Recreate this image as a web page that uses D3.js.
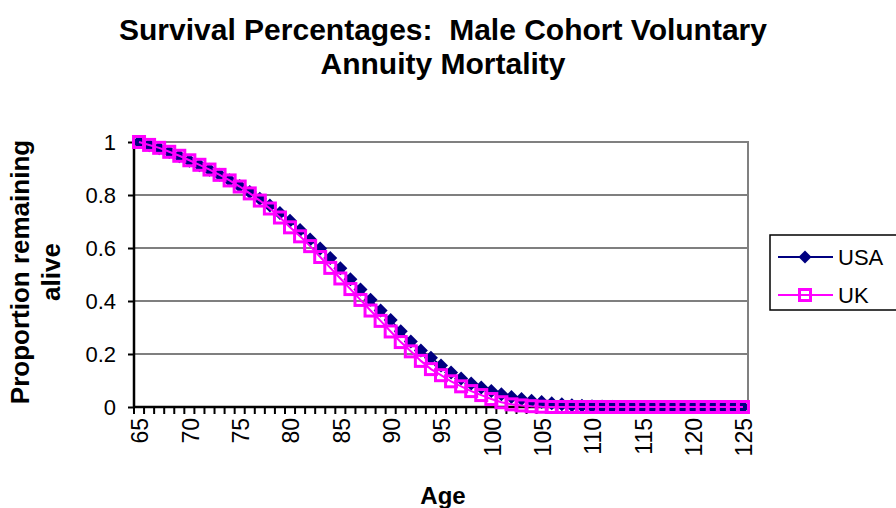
<!DOCTYPE html>
<html>
<head>
<meta charset="utf-8">
<script src="https://cdn.jsdelivr.net/npm/d3@7"></script>
<style>
  body { margin: 0; background: #fff; }
  svg { display: block; font-family: "Liberation Sans", Arial, sans-serif; }
</style>
</head>
<body>
<script>
// ages 65..125, one category each
var ages = d3.range(65, 126);
var ageLabels = [65, 70, 75, 80, 85, 90, 95, 100, 105, 110, 115, 120, 125];
var yTicks = [0, 0.2, 0.4, 0.6, 0.8, 1];

var usa = [1.000, 0.988, 0.976, 0.962, 0.946, 0.929, 0.912, 0.895, 0.876, 0.856,
           0.834, 0.811, 0.786, 0.760, 0.732, 0.703, 0.668, 0.632, 0.598, 0.562,
           0.524, 0.482, 0.443, 0.405, 0.364, 0.328, 0.286, 0.247, 0.213, 0.186,
           0.157, 0.130, 0.108, 0.089, 0.074, 0.060, 0.048, 0.038, 0.030, 0.024,
           0.019, 0.014, 0.010, 0.007, 0.005, 0.003, 0.002, 0.001, 0, 0,
           0, 0, 0, 0, 0, 0, 0, 0, 0, 0, 0];
var uk = [1.000, 0.989, 0.978, 0.963, 0.948, 0.931, 0.914, 0.896, 0.876, 0.855,
          0.832, 0.806, 0.779, 0.749, 0.715, 0.678, 0.644, 0.607, 0.566, 0.525,
          0.485, 0.445, 0.404, 0.364, 0.325, 0.285, 0.245, 0.210, 0.174, 0.143,
          0.120, 0.097, 0.078, 0.060, 0.045, 0.030, 0.018, 0.010, 0.006, 0.003,
          0.001, 0, 0, 0, 0, 0, 0, 0, 0, 0,
          0, 0, 0, 0, 0, 0, 0, 0, 0, 0, 0];

var seriesNames = ['USA', 'UK'];
var seriesColors = ['#000080', '#ff00ff'];

var W = 896, H = 508;
var plot = { left: 134, right: 748, top: 142, bottom: 407 };

var svg = d3.select('body').append('svg').attr('width', W).attr('height', H);

var x = d3.scaleBand().domain(ages).range([plot.left, plot.right]).paddingInner(0).paddingOuter(0);
var y = d3.scaleLinear().domain([0, 1]).range([plot.bottom, plot.top]);
var cx = function (a) { return x(a) + x.bandwidth() / 2; };

// title
svg.append('text').attr('x', 443).attr('y', 40).attr('text-anchor', 'middle')
  .style('font-size', '30px').style('font-weight', 'bold')
  .text('Survival Percentages:\u00a0 Male Cohort Voluntary');
svg.append('text').attr('x', 443).attr('y', 74).attr('text-anchor', 'middle')
  .style('font-size', '30px').style('font-weight', 'bold')
  .text('Annuity Mortality');

// gridlines (top one is the gray plot border)
svg.append('g').selectAll('line').data(yTicks.filter(function (d) { return d > 0 && d < 1; }))
  .enter().append('line')
  .attr('x1', plot.left).attr('x2', plot.right)
  .attr('y1', function (d) { return y(d); }).attr('y2', function (d) { return y(d); })
  .attr('stroke', '#000').attr('stroke-width', 1.2);
svg.append('path')
  .attr('d', 'M' + plot.left + ',' + y(1) + 'H' + plot.right + 'V' + plot.bottom)
  .attr('fill', 'none').attr('stroke', '#808080').attr('stroke-width', 2);

// y axis
var yAxis = svg.append('g').attr('transform', 'translate(' + plot.left + ',0)')
  .call(d3.axisLeft(y).tickValues(yTicks).tickFormat(d3.format('')).tickSize(6).tickPadding(12));
yAxis.select('.domain').attr('stroke', '#000').attr('stroke-width', 2.5).attr('d', 'M0,' + plot.top + 'V' + plot.bottom);
yAxis.selectAll('.tick line').attr('stroke', '#000').attr('stroke-width', 2);
yAxis.selectAll('.tick text').style('font-size', '22px').attr('fill', '#000')
  .style('font-family', '"Liberation Sans", Arial, sans-serif');

// x axis: boundary ticks + rotated labels
var bounds = ages.map(function (a) { return x(a); }).concat([plot.right]);
svg.append('g').selectAll('line').data(bounds).enter().append('line')
  .attr('x1', function (d) { return d; }).attr('x2', function (d) { return d; })
  .attr('y1', plot.bottom).attr('y2', plot.bottom + 7)
  .attr('stroke', '#000').attr('stroke-width', 2);
svg.append('line').attr('x1', plot.left).attr('x2', plot.right)
  .attr('y1', plot.bottom).attr('y2', plot.bottom)
  .attr('stroke', '#000').attr('stroke-width', 2.5);
svg.append('g').selectAll('text').data(ageLabels).enter().append('text')
  .attr('transform', function (d) { return 'translate(' + (cx(d) + 1) + ',' + (plot.bottom + 11) + ') rotate(-90)'; })
  .attr('text-anchor', 'end').attr('dy', '0.36em')
  .style('font-size', '23px')
  .text(function (d) { return d; });

// axis titles
svg.append('text').attr('x', 443).attr('y', 504).attr('text-anchor', 'middle')
  .style('font-size', '24px').style('font-weight', 'bold').text('Age');
var yt = svg.append('text').attr('transform', 'translate(29,272) rotate(-90)')
  .attr('text-anchor', 'middle').style('font-size', '26px').style('font-weight', 'bold');
yt.append('tspan').attr('x', 0).attr('y', 0).text('Proportion remaining');
yt.append('tspan').attr('x', 0).attr('y', 31).text('alive');

// series
var line = d3.line().x(function (d, i) { return cx(ages[i]); }).y(function (d) { return y(d); });

function diamond(g, px, py, r) {
  g.append('path').attr('d', 'M' + px + ',' + (py - r) + 'L' + (px + r) + ',' + py + 'L' + px + ',' + (py + r) + 'L' + (px - r) + ',' + py + 'Z')
    .attr('fill', seriesColors[0]);
}
function square(g, px, py, r) {
  g.append('rect').attr('x', px - r).attr('y', py - r).attr('width', 2 * r).attr('height', 2 * r)
    .attr('fill', 'none').attr('stroke', seriesColors[1]).attr('stroke-width', 3);
}

var gUsa = svg.append('g');
gUsa.append('path').datum(usa).attr('d', line).attr('fill', 'none')
  .attr('stroke', seriesColors[0]).attr('stroke-width', 1.5);
usa.forEach(function (v, i) { diamond(gUsa, cx(ages[i]), y(v), 7); });

var gUk = svg.append('g');
gUk.append('path').datum(uk).attr('d', line).attr('fill', 'none')
  .attr('stroke', seriesColors[1]).attr('stroke-width', 2);
uk.forEach(function (v, i) { square(gUk, cx(ages[i]), y(v), 5.5); });

// legend
var lg = svg.append('g');
lg.append('rect').attr('x', 770).attr('y', 235).attr('width', 140).attr('height', 75)
  .attr('fill', '#fff').attr('stroke', '#000').attr('stroke-width', 1.5);
seriesNames.forEach(function (name, i) {
  var ly = 257 + i * 38;
  lg.append('line').attr('x1', 778).attr('x2', 833).attr('y1', ly).attr('y2', ly)
    .attr('stroke', seriesColors[i]).attr('stroke-width', 2);
  if (i === 0) diamond(lg, 805, ly, 6.5); else square(lg, 805, ly, 5.5);
  lg.append('text').attr('x', 838).attr('y', ly).attr('dy', '0.36em')
    .style('font-size', '22px').text(name);
});
</script>
</body>
</html>
